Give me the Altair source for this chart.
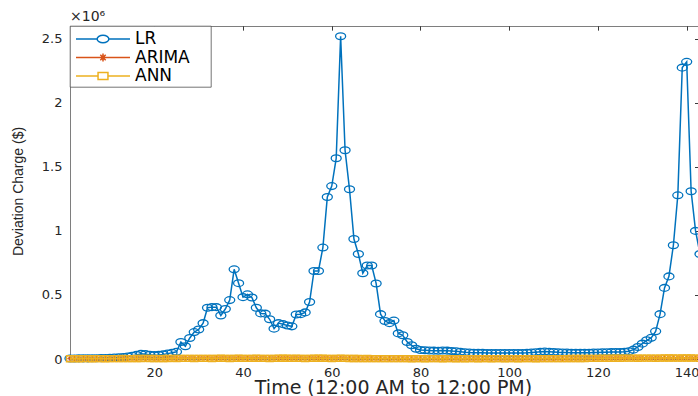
import altair as alt
import pandas as pd

# ---------------- data (values in units of 10^6 $) ----------------
time = list(range(1, 144))

lr = [
    0.004, 0.004, 0.005, 0.005, 0.005, 0.006, 0.006, 0.007, 0.008, 0.009,
    0.011, 0.013, 0.016, 0.020, 0.025, 0.032, 0.040, 0.038, 0.033, 0.030,
    0.032, 0.036, 0.042, 0.048, 0.056, 0.133, 0.100, 0.164, 0.210, 0.230,
    0.280, 0.400, 0.405, 0.405, 0.340, 0.390, 0.460, 0.700, 0.592, 0.483,
    0.505, 0.480, 0.400, 0.356, 0.354, 0.310, 0.237, 0.280, 0.272, 0.262,
    0.255, 0.347, 0.350, 0.364, 0.445, 0.687, 0.687, 0.870, 1.265, 1.350,
    1.567, 2.520, 1.630, 1.325, 0.937, 0.820, 0.670, 0.730, 0.730, 0.590,
    0.350, 0.297, 0.280, 0.300, 0.200, 0.185, 0.133, 0.107, 0.080, 0.070,
    0.068, 0.066, 0.065, 0.064, 0.066, 0.065, 0.062, 0.060, 0.056, 0.052,
    0.050, 0.049, 0.048, 0.048, 0.047, 0.047, 0.046, 0.046, 0.046, 0.046,
    0.046, 0.047, 0.047, 0.048, 0.050, 0.053, 0.056, 0.058, 0.056, 0.054,
    0.052, 0.051, 0.050, 0.049, 0.049, 0.048, 0.048, 0.049, 0.050, 0.051,
    0.052, 0.053, 0.054, 0.055, 0.055, 0.057, 0.060, 0.073, 0.094, 0.120,
    0.146, 0.165, 0.216, 0.350, 0.555, 0.645, 0.888, 1.278, 2.275, 2.320,
    1.310, 1.000, 0.820,
]

arima = [
    0.003, 0.004, 0.003, 0.004, 0.005, 0.004, 0.003, 0.004, 0.004, 0.005, 0.004,
    0.004, 0.005, 0.004, 0.003, 0.004, 0.005, 0.006, 0.005, 0.004, 0.004, 0.005,
    0.005, 0.006, 0.005, 0.006, 0.007, 0.006, 0.005, 0.006, 0.007, 0.006, 0.005,
    0.006, 0.007, 0.006, 0.005, 0.006, 0.007, 0.006, 0.005, 0.006, 0.007, 0.006,
    0.006, 0.005, 0.006, 0.007, 0.008, 0.007, 0.006, 0.007, 0.006, 0.005, 0.006,
    0.007, 0.008, 0.007, 0.006, 0.005, 0.006, 0.007, 0.006, 0.005, 0.004, 0.005,
    0.004, 0.005, 0.004, 0.003, 0.004, 0.004, 0.003, 0.004, 0.003, 0.004, 0.003,
    0.003, 0.004, 0.003, 0.003, 0.004, 0.003, 0.004, 0.003, 0.003, 0.004, 0.003,
    0.003, 0.003, 0.004, 0.003, 0.003, 0.004, 0.003, 0.003, 0.004, 0.003, 0.003,
    0.004, 0.003, 0.003, 0.004, 0.003, 0.004, 0.003, 0.003, 0.004, 0.004, 0.003,
    0.004, 0.003, 0.004, 0.004, 0.005, 0.004, 0.005, 0.006, 0.005, 0.006, 0.007,
    0.006, 0.007, 0.008, 0.007, 0.008, 0.009, 0.008, 0.007, 0.008, 0.009, 0.008,
    0.007, 0.008, 0.009, 0.010, 0.009, 0.008, 0.009, 0.010, 0.009, 0.008, 0.007,
]

ann = [
    0.002, 0.003, 0.002, 0.003, 0.003, 0.002, 0.003, 0.003, 0.002, 0.003, 0.003,
    0.003, 0.004, 0.003, 0.003, 0.004, 0.004, 0.005, 0.004, 0.004, 0.003, 0.004,
    0.004, 0.005, 0.004, 0.005, 0.005, 0.005, 0.004, 0.005, 0.005, 0.005, 0.004,
    0.005, 0.006, 0.005, 0.004, 0.005, 0.006, 0.005, 0.005, 0.005, 0.006, 0.005,
    0.005, 0.004, 0.005, 0.006, 0.006, 0.006, 0.005, 0.006, 0.005, 0.004, 0.005,
    0.006, 0.006, 0.006, 0.005, 0.004, 0.005, 0.006, 0.005, 0.004, 0.004, 0.004,
    0.003, 0.004, 0.003, 0.003, 0.003, 0.003, 0.003, 0.003, 0.003, 0.003, 0.003,
    0.002, 0.003, 0.003, 0.002, 0.003, 0.003, 0.003, 0.002, 0.003, 0.003, 0.002,
    0.003, 0.002, 0.003, 0.003, 0.002, 0.003, 0.003, 0.002, 0.003, 0.003, 0.002,
    0.003, 0.003, 0.002, 0.003, 0.003, 0.003, 0.002, 0.003, 0.003, 0.003, 0.003,
    0.003, 0.003, 0.003, 0.004, 0.004, 0.004, 0.004, 0.005, 0.005, 0.005, 0.006,
    0.005, 0.006, 0.006, 0.006, 0.007, 0.007, 0.007, 0.006, 0.007, 0.007, 0.007,
    0.006, 0.007, 0.008, 0.008, 0.008, 0.007, 0.008, 0.008, 0.008, 0.007, 0.006,
]

series_names = ["LR", "ARIMA", "ANN"]
series_colors = ["#0072BD", "#D95319", "#EDB120"]
x_ticks = [20, 40, 60, 80, 100, 120, 140]
y_ticks = [0, 0.5, 1, 1.5, 2, 2.5]

assert len(lr) == len(time) and len(arima) == len(time) and len(ann) == len(time)

df = pd.DataFrame({
    "t": time * 3,
    "v": lr + arima + ann,
    "series": ["LR"] * len(time) + ["ARIMA"] * len(time) + ["ANN"] * len(time),
})

# ---------------- styling ----------------
FONT = "DejaVu Sans"
AX = "#262626"
W, H = 630, 333

ELLIPSE = ("M-1,0 C-1,-0.3756 -0.5523,-0.68 0,-0.68 C0.5523,-0.68 1,-0.3756 1,0 "
           "C1,0.3756 0.5523,0.68 0,0.68 C-0.5523,0.68 -1,0.3756 -1,0 Z")
ASTER = "M0,-1V1M-1,0H1M-0.7,-0.7L0.7,0.7M-0.7,0.7L0.7,-0.7"
SQUARE = "M-1,-0.85H1V0.85H-1Z"

LEG_LR = ("M-3,0H-0.65M0.65,0H3M-0.65,0 C-0.65,-0.2375 -0.359,-0.43 0,-0.43 "
          "C0.359,-0.43 0.65,-0.2375 0.65,0 C0.65,0.2375 0.359,0.43 0,0.43 "
          "C-0.359,0.43 -0.65,0.2375 -0.65,0 Z")
LEG_AR = "M-3,0H3M0,-0.45V0.45M-0.42,0H0.42M-0.3,-0.3L0.3,0.3M-0.3,0.3L0.3,-0.3"
LEG_ANN = "M-3,0H-0.55M0.55,0H3M-0.55,-0.4H0.55V0.4H-0.55Z"

xs = alt.Scale(domain=[1, 143], nice=False, zero=False)
ys = alt.Scale(domain=[0, 2.6], nice=False, zero=False)
cs = alt.Scale(domain=series_names, range=series_colors)
ss = alt.Scale(domain=series_names, range=[LEG_LR, LEG_AR, LEG_ANN])

# NBSP + U+2800 (blank, non-whitespace) pad the labels so the legend box is as wide as the original
legend = alt.Legend(
    title=None, orient="none", legendX=0, legendY=0, direction="vertical",
    fillColor="white", strokeColor="#3a3a3a",
    labelFont=FONT, labelFontSize=17, labelColor="#000000",
    symbolSize=324, symbolStrokeWidth=1.5, symbolOffset=20, labelOffset=22,
    symbolOpacity=1, symbolFillColor="transparent",
    labelExpr="datum.label + '\u00a0\u2800'",
)

ax_x_main = alt.Axis(values=x_ticks, format="d", ticks=False, domain=True, domainColor=AX,
                     domainWidth=0.6, grid=False, labelPadding=7, labelOverlap=False,
                     labelFlush=False,
                     title="Time (12:00 AM to 12:00 PM)", titleFontSize=19, titleX=323,
                     titleY=34, titleBaseline="alphabetic")
ax_x_bticks = alt.Axis(values=x_ticks, labels=False, domain=False, ticks=True, tickSize=4,
                       tickColor=AX, tickWidth=0.7, offset=-4, title=None, grid=False)
ax_x_tticks = alt.Axis(orient="top", values=x_ticks, labels=False, domain=False, ticks=True,
                       tickSize=4, tickColor=AX, tickWidth=0.7, offset=-4, title=None, grid=False)
ax_x_top = alt.Axis(orient="top", values=x_ticks, labels=False, domain=True, domainColor=AX,
                    domainWidth=0.6, ticks=False, title=None, grid=False)

ax_y_main = alt.Axis(values=y_ticks, format="~g", ticks=False, domain=True, domainColor=AX,
                     domainWidth=0.6, grid=False, labelPadding=8, labelOverlap=False,
                     labelFlush=False,
                     title="Deviation Charge ($)", titleFont="Liberation Sans", titleFontSize=14,
                     titleAngle=270, titleX=-52, titleY=165, titleAlign="center",
                     titleBaseline="middle")
ax_y_lticks = alt.Axis(values=y_ticks, labels=False, domain=False, ticks=True, tickSize=5.5,
                       tickColor=AX, tickWidth=0.7, offset=-5.5, title=None, grid=False)
ax_y_rticks = alt.Axis(orient="right", values=y_ticks, labels=False, domain=False, ticks=True,
                       tickSize=5.5, tickColor=AX, tickWidth=0.7, offset=-5.5, title=None,
                       grid=False)

base = alt.Chart(df)


def sub(name):
    return base.transform_filter(alt.datum.series == name)


lr_line = sub("LR").mark_line(color=series_colors[0], strokeWidth=1.5).encode(
    x=alt.X("t:Q", scale=xs, axis=ax_x_main),
    y=alt.Y("v:Q", scale=ys, axis=ax_y_main),
)
lr_pts = sub("LR").mark_point(shape=ELLIPSE, size=100, filled=False, strokeWidth=1.3,
                              opacity=1, color=series_colors[0]).encode(
    x=alt.X("t:Q", scale=xs, axis=ax_x_bticks),
    y=alt.Y("v:Q", scale=ys, axis=ax_y_lticks),
)
ar_line = sub("ARIMA").mark_line(color=series_colors[1], strokeWidth=1.5).encode(
    x=alt.X("t:Q", scale=xs, axis=ax_x_tticks),
    y=alt.Y("v:Q", scale=ys, axis=ax_y_rticks),
)
ar_pts = sub("ARIMA").mark_point(shape=ASTER, size=30, filled=False, strokeWidth=1,
                                 opacity=1, color=series_colors[1]).encode(
    x=alt.X("t:Q", scale=xs, axis=ax_x_top),
    y=alt.Y("v:Q", scale=ys, axis=None),
)
ann_line = sub("ANN").mark_line(color=series_colors[2], strokeWidth=1.5).encode(
    x=alt.X("t:Q", scale=xs, axis=None),
    y=alt.Y("v:Q", scale=ys, axis=None),
)
ann_pts = sub("ANN").mark_point(shape=SQUARE, size=49, filled=False, strokeWidth=1.4,
                                opacity=1, color=series_colors[2]).encode(
    x=alt.X("t:Q", scale=xs, axis=None),
    y=alt.Y("v:Q", scale=ys, axis=None),
)
# legend-only layer (no rows drawn): carries the colour + shape legend
legend_layer = base.transform_filter(alt.datum.t < 0).mark_point(filled=False, opacity=1).encode(
    x=alt.X("t:Q", scale=xs, axis=None),
    y=alt.Y("v:Q", scale=ys, axis=None),
    color=alt.Color("series:N", scale=cs, legend=legend),
    shape=alt.Shape("series:N", scale=ss, legend=legend),
)

chart = (
    alt.layer(lr_line, lr_pts, ar_line, ar_pts, ann_line, ann_pts, legend_layer)
    .resolve_axis(x="independent", y="independent")
    .properties(
        width=W, height=H,
        title=alt.TitleParams(text="×10⁶", anchor="start", frame="group", offset=2,
                              fontSize=14, font=FONT, fontWeight="normal", color=AX),
        padding={"left": 70, "top": 26, "right": -2, "bottom": 37},
        autosize=alt.AutoSizeParams(type="none"),
        background="white",
    )
    .configure_view(stroke=None)
    .configure_axis(labelFont=FONT, labelFontSize=13, labelColor=AX, titleFont=FONT,
                    titleFontWeight="normal", titleColor=AX)
    .configure_legend(strokeWidth=0.7, padding=3, cornerRadius=0, rowPadding=0.5)
)

chart.save("out.html", embed_options={"renderer": "svg", "actions": False})
